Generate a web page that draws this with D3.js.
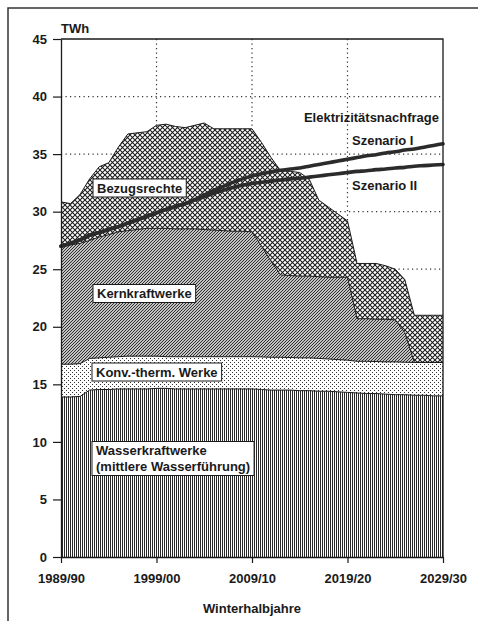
<!DOCTYPE html>
<html><head><meta charset="utf-8">
<script src="https://cdn.jsdelivr.net/npm/d3@7"></script>
<style>
html,body{margin:0;padding:0;background:#fff;}
svg{display:block;}
text{font-family:"Liberation Sans",Arial,Helvetica,sans-serif;font-weight:bold;fill:#1a1a1a;}
</style></head><body>
<svg id="c" width="478" height="621"></svg>
<script>
// ---------------- DATA ----------------
const years = [1989,1990,1991,1992,1993,1994,1995,1996,1997,1998,1999,2000,2001,2002,2003,2004,2005,2006,2007,2008,2009,2010,2011,2012,2013,2014,2015,2016,2017,2018,2019,2020,2021,2022,2023,2024,2025,2026,2027,2028,2029];
const wasserkraft = [13.9,13.9,13.95,14.5,14.55,14.55,14.6,14.6,14.6,14.6,14.65,14.65,14.6,14.6,14.6,14.6,14.6,14.6,14.6,14.6,14.6,14.55,14.5,14.5,14.5,14.45,14.45,14.4,14.4,14.35,14.3,14.25,14.2,14.2,14.15,14.1,14.1,14.05,14.05,14.0,14.0];
const konvTherm = [2.85,2.85,2.85,2.75,2.75,2.8,2.8,2.85,2.85,2.85,2.8,2.75,2.8,2.8,2.8,2.8,2.8,2.8,2.8,2.8,2.8,2.83,2.85,2.85,2.83,2.85,2.85,2.85,2.8,2.8,2.8,2.75,2.8,2.78,2.8,2.85,2.82,2.85,2.85,2.9,2.9];
const kernkraft = [10.2,10.35,10.45,10.25,10.5,10.65,10.85,10.9,11.0,11.1,11.1,11.15,11.1,11.1,11.1,11.05,11.0,10.95,10.9,10.9,10.85,9.62,8.35,7.15,7.12,7.1,7.1,7.1,7.1,7.15,7.2,3.7,3.7,3.67,3.7,3.65,2.58,0,0,0,0];
const bezugsrechte = [3.9,3.6,4.25,5.35,6.1,6.25,7.35,8.4,8.4,8.4,8.95,9.05,8.9,8.8,9.0,9.25,8.8,8.85,8.9,8.9,8.95,9.0,9.0,9.05,9.05,9.0,8.4,6.65,6.1,5.5,4.9,4.8,4.8,4.85,4.65,4.4,4.6,4.1,4.1,4.1,4.1];
const szenarioI = [27.0,27.25,27.55,27.95,28.2,28.45,28.7,29.0,29.3,29.6,29.9,30.2,30.45,30.7,31.05,31.45,31.85,32.2,32.55,32.85,33.1,33.3,33.45,33.6,33.7,33.8,33.95,34.1,34.25,34.4,34.55,34.7,34.85,34.95,35.1,35.2,35.35,35.45,35.6,35.75,35.9];
const szenarioII = [27.0,27.25,27.55,27.95,28.2,28.45,28.7,29.0,29.3,29.6,29.9,30.2,30.45,30.7,31.0,31.3,31.6,31.85,32.1,32.3,32.45,32.55,32.65,32.75,32.85,32.9,33.0,33.1,33.2,33.3,33.4,33.5,33.55,33.65,33.7,33.8,33.85,33.95,34.0,34.05,34.1];
const xTickYears = [1989,1999,2009,2019,2029];
const xTickLabels = ["1989/90","1999/00","2009/10","2019/20","2029/30"];
const yTicks = [0,5,10,15,20,25,30,35,40,45];
const yGrid = [25,30,35,40];
const xGrid = [1999,2009,2019];

// ---------------- SETUP ----------------
const svg = d3.select("#c");
const x = d3.scaleLinear().domain([1989,2029]).range([61,443]);
const y = d3.scaleLinear().domain([0,45]).range([557,39]);
const ink = "#1a1a1a";

const defs = svg.append("defs");
function pat(id,w,h){
  const p = defs.append("pattern").attr("id",id).attr("patternUnits","userSpaceOnUse").attr("width",w).attr("height",h);
  p.append("rect").attr("width",w).attr("height",h).attr("fill","#fff");
  return p;
}
let p = pat("pWasser",2,4);
p.append("rect").attr("width",1).attr("height",4).attr("fill","#2a2a2a");
p = pat("pKonv",4,4);
p.append("rect").attr("x",0).attr("y",0).attr("width",1).attr("height",1).attr("fill","#333");
p.append("rect").attr("x",2).attr("y",2).attr("width",1).attr("height",1).attr("fill","#333");
p = pat("pKern",3,3);
p.append("path").attr("d","M-1,1L1,-1M0,3L3,0M2,4L4,2").attr("stroke","#222").attr("stroke-width",1.05);
p = pat("pBezug",5,5);
p.append("path").attr("d","M0,0L5,5M5,0L0,5").attr("stroke","#1a1a1a").attr("stroke-width",1.05);

// background
svg.append("rect").attr("width",478).attr("height",621).attr("fill","#fff");

// page frame (scan edge)
svg.append("path").attr("d","M8,621V8H478").attr("fill","none").attr("stroke","#333").attr("stroke-width",1.5);

// gridlines
const grid = svg.append("g").attr("stroke","#333").attr("stroke-width",1.2).attr("stroke-dasharray","1.2,3.3");
grid.selectAll("line.h").data(yGrid).join("line").attr("class","h")
  .attr("x1",x(1989)).attr("x2",x(2029)).attr("y1",d=>y(d)).attr("y2",d=>y(d));
grid.selectAll("line.v").data(xGrid).join("line").attr("class","v")
  .attr("x1",d=>x(d)).attr("x2",d=>x(d)).attr("y1",y(45)).attr("y2",y(0));

// stacked areas
const keys = ["wasser","konv","kern","bezug"];
const fills = {wasser:"url(#pWasser)",konv:"url(#pKonv)",kern:"url(#pKern)",bezug:"url(#pBezug)"};
const table = years.map((yr,i)=>({year:yr,wasser:wasserkraft[i],konv:konvTherm[i],kern:kernkraft[i],bezug:bezugsrechte[i]}));
const series = d3.stack().keys(keys)(table);
const area = d3.area().x(d=>x(d.data.year)).y0(d=>y(d[0])).y1(d=>y(d[1]));
const topLine = d3.line().x(d=>x(d.data.year)).y(d=>y(d[1]));
svg.append("g").selectAll("path").data(series).join("path")
  .attr("d",area).attr("fill",d=>fills[d.key]);
svg.append("g").selectAll("path").data(series).join("path")
  .attr("d",topLine).attr("fill","none").attr("stroke",ink).attr("stroke-width",1);

// demand lines
const dLine = d3.line().x((d,i)=>x(years[i])).y(d=>y(d)).curve(d3.curveMonotoneX);
svg.append("g").selectAll("path").data([szenarioII,szenarioI]).join("path")
  .attr("d",dLine).attr("fill","none").attr("stroke","#2b2b2b").attr("stroke-width",3.6).attr("stroke-linecap","round");

// plot frame (top & right)
svg.append("path").attr("d",`M${x(1989)},${y(45)}H${x(2029)}V${y(0)}`).attr("fill","none").attr("stroke",ink).attr("stroke-width",1.3);

// axes
const yAxis = svg.append("g").attr("transform",`translate(${x(1989)},0)`)
  .call(d3.axisLeft(y).tickValues(yTicks).tickSize(8).tickPadding(6).tickSizeOuter(0));
const xAxis = svg.append("g").attr("transform",`translate(0,${y(0)})`)
  .call(d3.axisBottom(x).tickValues(xTickYears).tickFormat((d,i)=>xTickLabels[i]).tickSize(6).tickPadding(11).tickSizeOuter(0));
[yAxis,xAxis].forEach(a=>{
  a.select(".domain").attr("stroke",ink).attr("stroke-width",1.3);
  a.selectAll(".tick line").attr("stroke",ink).attr("stroke-width",1.2);
  a.selectAll("text").attr("font-size",13).attr("font-family",null).attr("fill",ink);
});

// titles
svg.append("text").attr("x",61).attr("y",33).attr("font-size",13).text("TWh");
svg.append("text").attr("x",x(2009)).attr("y",613).attr("text-anchor","middle").attr("font-size",13).text("Winterhalbjahre");
svg.append("text").attr("x",439).attr("y",121.5).attr("text-anchor","end").attr("font-size",13).text("Elektrizitätsnachfrage");
svg.append("text").attr("x",352).attr("y",145).attr("font-size",13).text("Szenario I");
svg.append("text").attr("x",352).attr("y",190).attr("font-size",13).text("Szenario II");

// boxed labels
function boxLabel(lines, x0, yBase, lh){
  const g = svg.append("g");
  const r = g.append("rect").attr("fill","#fff").attr("stroke",ink).attr("stroke-width",1);
  const t = g.append("text").attr("font-size",13);
  lines.forEach((s,i)=>t.append("tspan").attr("x",x0).attr("y",yBase+i*lh).text(s));
  const b = t.node().getBBox();
  r.attr("x",b.x-4).attr("y",b.y-1.5).attr("width",b.width+8).attr("height",b.height+3);
}
boxLabel(["Bezugsrechte"],97,192.5,0);
boxLabel(["Kernkraftwerke"],97,298,0);
boxLabel(["Konv.-therm. Werke"],96,376.5,0);
boxLabel(["Wasserkraftwerke","(mittlere Wasserführung)"],96,455,16);
</script>
</body></html>
